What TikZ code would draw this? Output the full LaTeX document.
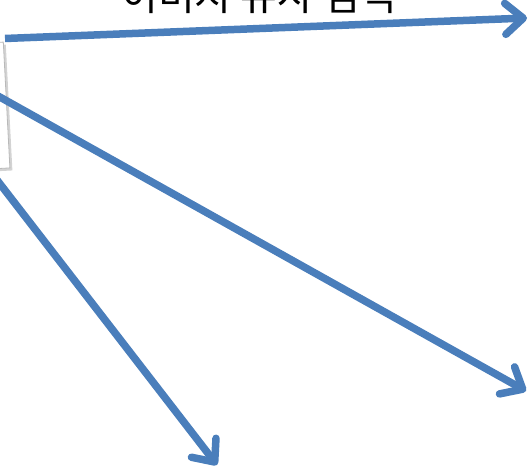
\documentclass[tikz,border=0pt]{standalone}
\usepackage{fontspec}
\newfontfamily\cjk{Noto Sans CJK KR}
\usetikzlibrary{arrows.meta,shadows}
\definecolor{lineblue}{RGB}{74,126,187}

\begin{document}
\begin{tikzpicture}[
  x=1pt, y=-1pt,
  flow/.style={draw=lineblue, line width=7.5pt,
               -{Straight Barb[length=18pt, width=31pt, round]}},
  panel/.style={draw=gray!55, fill=white, line width=0.8pt,
                minimum width=60pt, minimum height=126pt,
                drop shadow={opacity=0.35, shadow xshift=2.5pt, shadow yshift=-2.5pt}},
  caption/.style={font=\cjk\fontsize{40}{40}\selectfont, inner sep=0pt}
]
\useasboundingbox (0,0) rectangle (531,473);
\clip (0,0) rectangle (531,473);
% source box, mostly off the left side
\node[panel, rotate=3, anchor=east] (query) at (7,105) {};
% arrow ends
\coordinate (a1) at (5,38.5);
\coordinate (a2) at (-2,96);
\coordinate (a3) at (-3,180);
\coordinate (t1) at (527,18);
\coordinate (t2) at (526,391);
\coordinate (t3) at (217,465);
\node[caption, anchor=base] (label) at (259,11) {이미지 유사 검색};
\draw[flow] (a1) -- (t1);
\draw[flow] (a2) -- (t2);
\draw[flow] (a3) -- (t3);
\end{tikzpicture}
\end{document}
